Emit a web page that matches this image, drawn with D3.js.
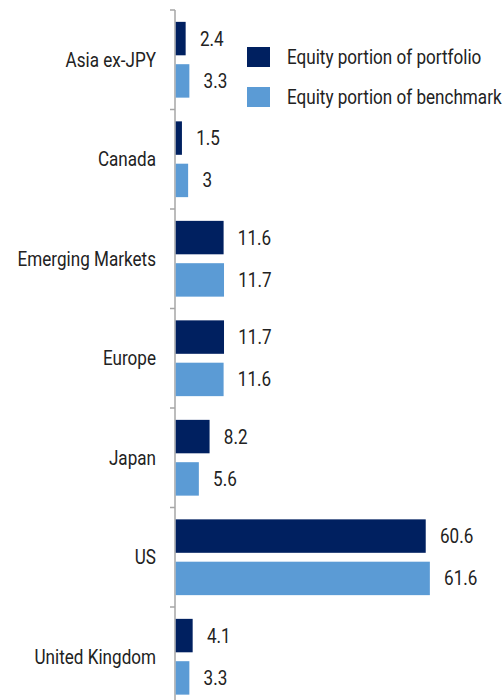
<!DOCTYPE html>
<html>
<head>
<meta charset="utf-8">
<script src="https://cdn.jsdelivr.net/npm/d3@7"></script>
<style>
  body { margin: 0; background: #fff; }
  text { font-family: "Roboto", "Liberation Sans", sans-serif; fill: #222; font-size: 20px; }
</style>
</head>
<body>
<div class="bar-chart"></div>
<script>
var categories = ['Asia ex-JPY', 'Canada', 'Emerging Markets', 'Europe', 'Japan', 'US', 'United Kingdom'];
var seriesNames = ['Equity portion of portfolio', 'Equity portion of benchmark'];
var portfolio = [2.4, 1.5, 11.6, 11.7, 8.2, 60.6, 4.1];
var benchmark = [3.3, 3, 11.7, 11.6, 5.6, 61.6, 3.3];

var colors = ['#002060', '#5b9bd5'];
var width = 503;
var height = 700;
var squeeze = 0.855; // no condensed font here, so narrow Roboto by hand

var rows = categories.map(function(c, i) {
  return { name: c, values: [portfolio[i], benchmark[i]] };
});

var y0 = d3.scaleBand()
  .domain(categories)
  .range([10, 706.5]);

var y1 = d3.scaleBand()
  .domain([0, 1])
  .range([0, y0.bandwidth()])
  .paddingInner(0.21)
  .paddingOuter(0.28);

var x = d3.scaleLinear()
  .domain([0, 80])
  .range([175, 505]);

var svg = d3.select('.bar-chart').append('svg')
  .attr('width', width)
  .attr('height', height);

function label(sel, tx, ty) {
  return sel.append('g')
      .attr('transform', function(d, i) {
        return 'translate(' + tx(d, i) + ',' + ty(d, i) + ') scale(' + squeeze + ',1)';
      })
    .append('text')
      .attr('dy', '0.35em');
}

// axis line and ticks between groups
svg.append('line')
  .attr('x1', x(0)).attr('x2', x(0))
  .attr('y1', y0(categories[0])).attr('y2', height)
  .attr('stroke', '#a6a6a6')
  .attr('stroke-width', 1.5);

var boundaries = categories.map(function(c) { return y0(c); });
boundaries.push(y0.range()[1]);
svg.selectAll('.tick')
  .data(boundaries)
  .enter().append('line')
  .attr('class', 'tick')
  .attr('x1', x(0) - 5).attr('x2', x(0))
  .attr('y1', function(d) { return d; })
  .attr('y2', function(d) { return d; })
  .attr('stroke', '#a6a6a6')
  .attr('stroke-width', 1.5);

var group = svg.selectAll('.group')
  .data(rows)
  .enter().append('g')
  .attr('class', 'group')
  .attr('transform', function(d) { return 'translate(0,' + y0(d.name) + ')'; });

label(group, function() { return 156; }, function() { return y0.bandwidth() / 2; })
  .attr('text-anchor', 'end')
  .text(function(d) { return d.name; });

group.selectAll('rect')
  .data(function(d) { return d.values; })
  .enter().append('rect')
  .attr('x', x(0) + 0.75)
  .attr('y', function(d, i) { return y1(i); })
  .attr('width', function(d) { return x(d) - x(0); })
  .attr('height', y1.bandwidth())
  .attr('fill', function(d, i) { return colors[i]; });

var values = group.selectAll('.value')
  .data(function(d) { return d.values; })
  .enter().append('g')
  .attr('class', 'value');

label(values,
    function(d) { return x(d) + 15; },
    function(d, i) { return y1(i) + y1.bandwidth() / 2; })
  .text(function(d) { return d; });

// legend
var legend = svg.selectAll('.legend')
  .data(seriesNames)
  .enter().append('g')
  .attr('class', 'legend')
  .attr('transform', function(d, i) { return 'translate(247,' + (47 + i * 40) + ')'; });

legend.append('rect')
  .attr('width', 23)
  .attr('height', 20)
  .attr('fill', function(d, i) { return colors[i]; });

label(legend, function() { return 40; }, function() { return 10; })
  .text(function(d) { return d; });
</script>
</body>
</html>
